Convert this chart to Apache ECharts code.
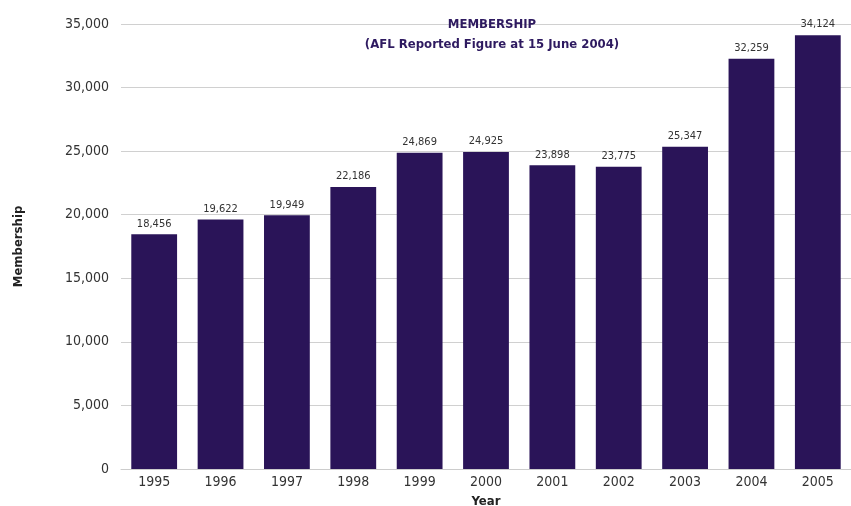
<!DOCTYPE html>
<html>
<head>
<meta charset="utf-8">
<script src="https://cdn.jsdelivr.net/npm/echarts@6/dist/echarts.min.js"></script>
<style>
html, body { margin: 0; padding: 0; background: #fff; }
#chart { width: 851px; height: 506px; }
</style>
</head>
<body>
<div id="chart"></div>
<script>
// data
var years = ['1995', '1996', '1997', '1998', '1999', '2000', '2001', '2002', '2003', '2004', '2005']
var membership = [18456, 19622, 19949, 22186, 24869, 24925, 23898, 23775, 25347, 32259, 34124]

var font = '"Liberation Sans Narrow", "DejaVu Sans Condensed", sans-serif'
var purple = '#2a1458'

var chart = echarts.init(document.getElementById('chart'))
chart.setOption({
	animation: false,
	title: {
		text: 'MEMBERSHIP\n(AFL Reported Figure at 15 June 2004)',
		left: 487,
		top: 10,
		textAlign: 'center',
		textStyle: {
			fontFamily: font,
			fontSize: 13,
			fontWeight: 'bold',
			color: '#2e1a60',
			lineHeight: 20
		}
	},
	grid: { left: 121, right: 0, top: 24, bottom: 37, outerBoundsMode: 'none', containLabel: false },
	xAxis: {
		type: 'category',
		data: years,
		name: 'Year',
		nameLocation: 'middle',
		nameGap: 26,
		nameTextStyle: { fontFamily: font, fontSize: 13, fontWeight: 'bold', color: '#222' },
		axisLine: { lineStyle: { color: '#cccccc' } },
		axisTick: { show: false },
		axisLabel: { fontFamily: font, fontSize: 14, color: '#333', margin: 6 }
	},
	yAxis: {
		type: 'value',
		min: 0,
		max: 35000,
		interval: 5000,
		name: 'Membership',
		nameLocation: 'middle',
		nameGap: 96,
		nameTextStyle: { fontFamily: font, fontSize: 13, fontWeight: 'bold', color: '#222' },
		axisLine: { show: false },
		axisTick: { show: false },
		splitLine: { lineStyle: { color: '#d0d0d0' } },
		axisLabel: {
			fontFamily: font, fontSize: 14, color: '#333', margin: 12,
			formatter: function (v) { return v.toLocaleString('en-US') }
		}
	},
	series: [{
		type: 'bar',
		data: membership,
		barWidth: '69%',
		itemStyle: { color: purple },
		label: {
			show: true,
			position: 'top',
			distance: 5,
			fontFamily: font,
			fontSize: 11,
			color: '#333',
			formatter: function (p) { return p.value.toLocaleString('en-US') }
		}
	}]
})
</script>
</body>
</html>
